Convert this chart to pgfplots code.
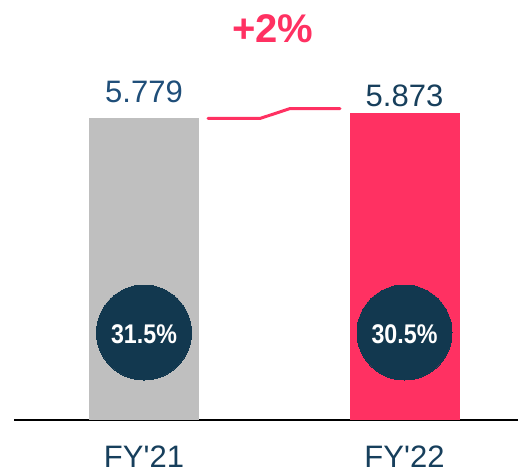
\documentclass[border=0pt]{standalone}
\usepackage{pgfplots}
\pgfplotsset{compat=1.18}
\usepackage{fontspec}
\setmainfont{Liberation Sans}
\definecolor{barGray}{HTML}{BFBFBF}
\definecolor{barPink}{HTML}{FF3162}
\definecolor{navy}{HTML}{12384F}
\definecolor{lblA}{HTML}{1F4E79}
\definecolor{lblB}{HTML}{173F5C}
\begin{document}
\begin{tikzpicture}
\useasboundingbox (-14bp,-52bp) rectangle (504bp,420bp);
\begin{axis}[
 at={(0,0)}, anchor=south west,
 scale only axis, width=504bp, height=420bp,
 xmin=-0.49904, xmax=1.4357, ymin=0, ymax=8.046,
 axis x line*=bottom, axis y line=none,
 axis line style={black, line width=1.3bp},
 xtick={0,1}, xticklabels={FY\textquotesingle21,FY\textquotesingle22},
 major tick length=0pt, ytick=\empty,
 xticklabel style={font=\fontsize{31bp}{31bp}\selectfont, text=lblB, anchor=base, yshift=-47bp},
 clip=false, clip mode=individual,
]
\addplot[ybar, bar width=110bp, bar shift=0pt, fill=barGray, draw=none] coordinates {(0,5.779)};
\addplot[ybar, bar width=110bp, bar shift=0pt, fill=barPink, draw=none] coordinates {(1,5.873)};
\addplot[only marks, mark=*, mark size=47.5bp, mark options={fill=navy, draw=navy, line width=0pt}] coordinates {(0,1.676) (1,1.676)};
\addplot[barPink, line width=3bp, line cap=round, line join=round] coordinates {(0.2457,5.776) (0.4453,5.776) (0.5605,5.967) (0.7524,5.967)};
\end{axis}
\begin{axis}[
 at={(0,0)}, anchor=south west,
 scale only axis, width=504bp, height=420bp,
 xmin=-0.49904, xmax=1.4357, ymin=0, ymax=8.046,
 hide axis, clip=false,
]
\node[anchor=base, text=white, font=\bfseries\fontsize{27bp}{27bp}\selectfont] at (axis cs:0,1.475) {\scalebox{0.86}[1]{31.5\%}};
\node[anchor=base, text=white, font=\bfseries\fontsize{27bp}{27bp}\selectfont] at (axis cs:1,1.475) {\scalebox{0.86}[1]{30.5\%}};
\node[anchor=base, text=lblA, font=\fontsize{31bp}{31bp}\selectfont] at (axis cs:0,6.073) {5.779};
\node[anchor=base, text=lblB, font=\fontsize{31bp}{31bp}\selectfont] at (axis cs:1,6.015) {5.873};
\node[anchor=base, text=barPink, font=\bfseries\fontsize{40bp}{40bp}\selectfont] at (axis cs:0.495,7.241) {+2\%};
\end{axis}
\end{tikzpicture}
\end{document}
